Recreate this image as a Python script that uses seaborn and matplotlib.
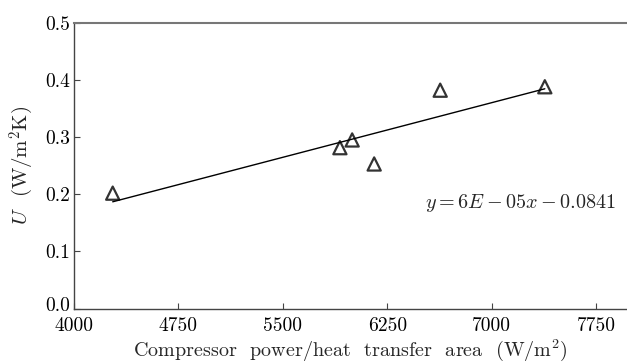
import matplotlib
matplotlib.use("Agg")
import matplotlib.pyplot as plt
import matplotlib.transforms as mtransforms
import seaborn as sns
import numpy as np
import pandas as pd

power = [4278, 5909, 5997, 6155, 6629, 7380]
u_value = [0.202, 0.2815, 0.295, 0.253, 0.382, 0.388]
x_ticks = [4000, 4750, 5500, 6250, 7000, 7750]
y_ticks = [0.0, 0.1, 0.2, 0.3, 0.4, 0.5]

sns.set_style("white")
plt.rcParams['font.family'] = ['cmr10', 'DejaVu Serif']
plt.rcParams['mathtext.fontset'] = 'cm'
plt.rcParams['axes.formatter.use_mathtext'] = True
plt.rcParams['font.size'] = 14

df = pd.DataFrame({"power": power, "u": u_value})

fig = plt.figure(figsize=(6.27, 3.63), dpi=100)
ax = fig.add_axes([0.118, 0.1496, 0.882, 0.7879])
sns.regplot(data=df, x="power", y="u", ax=ax, ci=None, truncate=True,
            marker="^", color="black",
            scatter_kws={"facecolors": "none", "edgecolors": "black",
                         "linewidths": 1.6, "s": 90, "zorder": 3},
            line_kws={"linewidth": 1.0, "color": "black"})

ax.set_xlim(4000, 7970)
ax.set_ylim(0, 0.5)
ax.set_xticks(x_ticks)
ax.set_yticks(y_ticks)
ax.set_xticklabels([str(t) for t in x_ticks])
ax.set_yticklabels([f"{t:.1f}" for t in y_ticks])
ax.tick_params(axis='both', direction='in', length=4, width=0.8, colors='#444444',
               labelsize=14, labelcolor='black')
ax.tick_params(axis='y', left=True, pad=3)
ax.tick_params(axis='x', bottom=True, pad=6)

# nudge the 0.0 label up a little, as in the reference
zero_lab = ax.yaxis.get_major_ticks()[0].label1
zero_lab.set_transform(zero_lab.get_transform() +
                       mtransforms.ScaledTranslation(0, 3 / 72, fig.dpi_scale_trans))

for side in ['left', 'bottom']:
    ax.spines[side].set_color('#444444')
    ax.spines[side].set_linewidth(1.0)
ax.spines['top'].set_color('#777777')
ax.spines['top'].set_linewidth(1.5)
ax.spines['right'].set_visible(False)

ax.set_xlabel(r"Compressor  power/heat  transfer  area  (W/m$^2$)", fontsize=14.5, labelpad=2)
ax.set_ylabel(r"$U$  (W/m$^2$K)", fontsize=15, labelpad=6)

ax.text(6519, 0.185, r"$y=6E-05x-0.0841$", fontsize=14.5, va='center', ha='left')

fig.savefig("out.png", dpi=100)
